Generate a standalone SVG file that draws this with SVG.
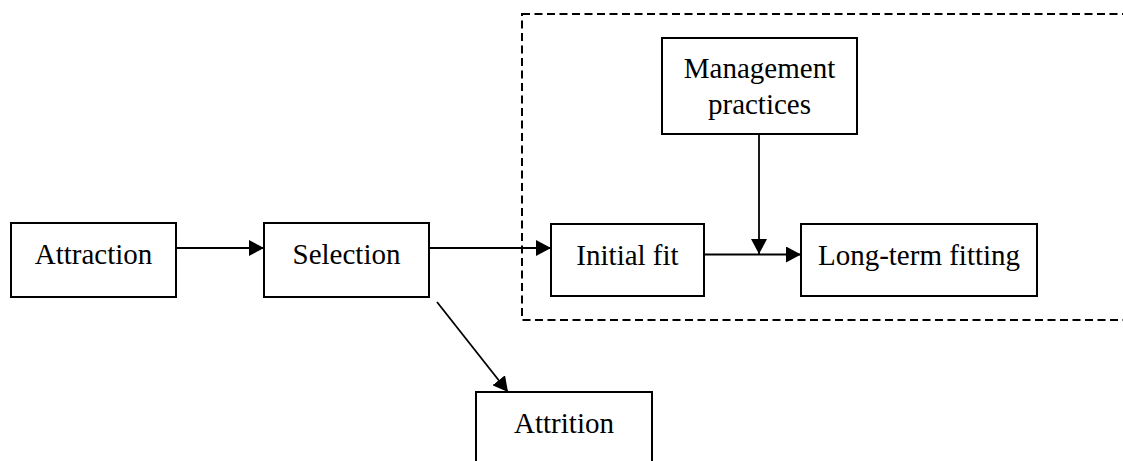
<svg xmlns="http://www.w3.org/2000/svg" width="1123" height="461" viewBox="0 0 1123 461">
  <style>
    .box { fill: #fff; stroke: #000; stroke-width: 2; }
    .lbl { font-family: "Liberation Serif", "Times New Roman", serif; font-size: 29px; fill: #000; text-anchor: middle; }
    .edge { stroke: #000; stroke-width: 1.8; fill: none; marker-end: url(#head); }
    .frame { fill: none; stroke: #000; stroke-width: 2; stroke-dasharray: 8 4.5; }
  </style>
  <defs>
    <marker id="head" markerUnits="userSpaceOnUse" markerWidth="15" markerHeight="16" refX="15" refY="8" orient="auto">
      <path d="M0,0 L15,8 L0,16 Z" fill="#000"/>
    </marker>
  </defs>
  <rect fill="#fff" width="1123" height="461"/>

  <!-- dashed boundary around the fitting stage -->
  <rect class="frame" x="522" y="14" width="620" height="306"/>

  <g id="connectors">
    <line class="edge" x1="176" y1="248" x2="264" y2="248"/>
    <line class="edge" x1="429" y1="248" x2="551" y2="248"/>
    <line class="edge" x1="704" y1="254.5" x2="801" y2="254.5"/>
    <line class="edge" x1="759" y1="134" x2="759" y2="254"/>
    <line class="edge" x1="437" y1="302" x2="508" y2="392"/>
  </g>

  <g id="attraction">
    <rect class="box" x="11" y="223" width="165" height="74"/>
    <text class="lbl" x="93.5" y="264">Attraction</text>
  </g>
  <g id="selection">
    <rect class="box" x="264" y="223" width="165" height="74"/>
    <text class="lbl" x="346.5" y="264">Selection</text>
  </g>
  <g id="initial-fit">
    <rect class="box" x="551" y="224" width="153" height="72"/>
    <text class="lbl" x="627.5" y="265">Initial fit</text>
  </g>
  <g id="long-term-fitting">
    <rect class="box" x="801" y="224" width="236" height="72"/>
    <text class="lbl" x="919" y="265">Long-term fitting</text>
  </g>
  <g id="management-practices">
    <rect class="box" x="662" y="38" width="195" height="96"/>
    <text class="lbl" x="759.5" y="78">Management</text>
    <text class="lbl" x="759.5" y="114">practices</text>
  </g>
  <g id="attrition">
    <rect class="box" x="476" y="392" width="176" height="80"/>
    <text class="lbl" x="564" y="433">Attrition</text>
  </g>
</svg>
